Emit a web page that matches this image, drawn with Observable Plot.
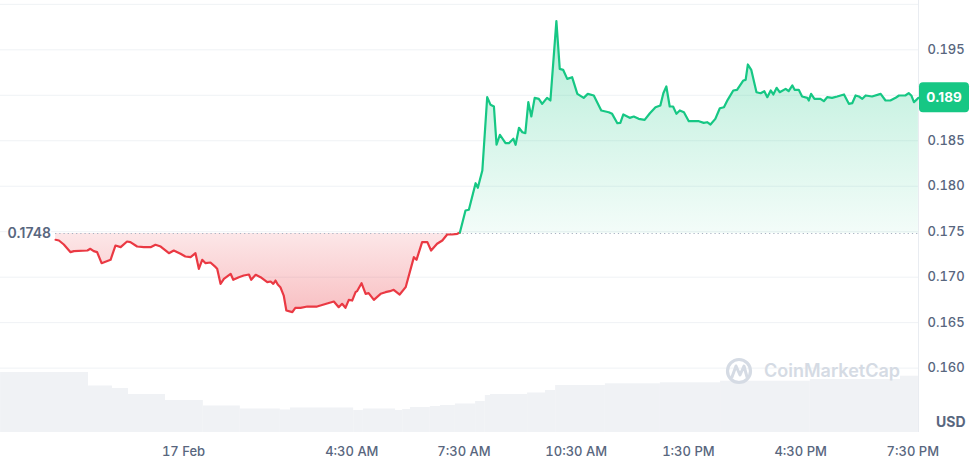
<!DOCTYPE html>
<html>
<head>
<meta charset="utf-8">
<script src="https://cdn.jsdelivr.net/npm/d3@7"></script>
<script src="https://cdn.jsdelivr.net/npm/@observablehq/plot@0.6"></script>
<style>
  html, body { margin: 0; padding: 0; background: #ffffff; }
  #chart { position: relative; width: 971px; height: 458px; }
  #chart svg { position: absolute; left: 0; top: 0; overflow: visible; }
</style>
</head>
<body>
<div id="chart"></div>
<script>
// ---------- DATA (hours relative to 17 Feb 00:00, price in USD) ----------
const baselinePrice = 0.1748;
const lastPriceLabel = "0.189";

const priceTimes = [
  -3.42,-3.33,-3.20,-3.02,-2.93,-2.57,-2.49,-2.40,-2.31,-2.19,
  -1.95,-1.82,-1.68,-1.51,-1.42,-1.24,-1.06,-0.88,-0.75,-0.61,
  -0.39,-0.26,-0.08,0.05,0.19,0.32,0.41,0.50,0.59,0.72,
  0.86,0.90,0.99,1.08,1.26,1.33,1.48,1.61,1.75,1.81,
  1.93,2.06,2.24,2.33,2.40,2.46,2.52,2.59,2.68,2.75,
  2.91,2.99,3.13,3.31,3.57,3.75,4.02,4.15,4.24,4.33,
  4.42,4.51,4.60,4.64,4.76,4.87,4.95,5.09,5.27,5.40,
  5.52,5.62,5.78,5.94,6.16,6.23,6.38,6.52,6.62,6.78,
  6.92,7.05,7.18,7.32,7.39,
  7.54,7.63,7.81,7.87,7.99,8.12,8.21,8.30,8.37,8.46,
  8.61,8.70,8.82,8.88,8.97,9.06,9.14,9.22,9.30,9.39,
  9.50,9.59,9.72,9.81,9.97,10.06,10.15,10.26,10.39,10.53,
  10.70,10.81,10.97,11.17,11.37,11.46,11.60,11.68,11.76,11.93,
  12.04,12.17,12.33,12.47,12.62,12.75,12.83,12.91,13.00,13.09,
  13.18,13.27,13.38,13.51,13.78,13.91,14.00,14.09,14.22,14.34,
  14.45,14.55,14.70,14.80,14.97,15.03,15.09,15.18,15.32,15.43,
  15.53,15.61,15.70,15.77,15.86,15.94,16.10,16.18,16.28,16.34,
  16.45,16.54,16.68,16.72,16.78,16.87,17.03,17.12,17.21,17.34,
  17.48,17.66,17.79,17.88,17.97,18.06,18.15,18.24,18.41,18.64,
  18.77,18.90,19.04,19.13,19.30,19.39,19.46,19.53,19.65
];

const prices = [
  0.17411,0.17403,0.17359,0.17275,0.17286,0.17293,0.17312,0.17286,0.17275,0.17154,
  0.17191,0.17348,0.17330,0.17392,0.17385,0.17337,0.17330,0.17330,0.17356,0.17337,
  0.17264,0.17293,0.17257,0.17227,0.17220,0.17264,0.17092,0.17191,0.17154,0.17161,
  0.17110,0.17092,0.16927,0.16982,0.17037,0.16971,0.17000,0.17018,0.17029,0.16971,
  0.17026,0.17000,0.16945,0.16952,0.16927,0.16963,0.16919,0.16890,0.16798,0.16634,
  0.16615,0.16663,0.16663,0.16677,0.16677,0.16699,0.16732,0.16670,0.16707,0.16663,
  0.16751,0.16743,0.16835,0.16846,0.16934,0.16817,0.16824,0.16751,0.16817,0.16835,
  0.16846,0.16861,0.16809,0.16890,0.17220,0.17191,0.17385,0.17385,0.17293,0.17367,
  0.17403,0.17469,0.17469,0.17477,0.17491,
  0.17733,0.17741,0.18033,0.17983,0.18173,0.18979,0.18895,0.18877,0.18456,0.18566,
  0.18473,0.18473,0.18522,0.18456,0.18643,0.18594,0.18583,0.18924,0.18767,0.18972,
  0.18961,0.18906,0.18972,0.18943,0.19815,0.19291,0.19280,0.19181,0.19199,0.19016,
  0.18972,0.19016,0.18998,0.18833,0.18814,0.18796,0.18693,0.18697,0.18789,0.18752,
  0.18767,0.18741,0.18730,0.18803,0.18869,0.18888,0.19023,0.19097,0.18877,0.18877,
  0.18796,0.18833,0.18814,0.18715,0.18715,0.18697,0.18704,0.18679,0.18741,0.18858,
  0.18869,0.18950,0.19053,0.19060,0.19163,0.19170,0.19339,0.19280,0.19034,0.19023,
  0.19045,0.18979,0.19053,0.19009,0.19082,0.19034,0.19071,0.19045,0.19108,0.19060,
  0.19060,0.18987,0.18972,0.18943,0.19016,0.18961,0.18961,0.18935,0.18979,0.18972,
  0.18987,0.19009,0.18906,0.18913,0.18998,0.18987,0.18961,0.18998,0.18987,0.19016,
  0.18943,0.18943,0.18972,0.18998,0.18998,0.19023,0.18998,0.18924,0.18972
];

// Volume (relative units), as steps: [start hour, end hour]
const volumeStarts = [-4.89,-2.54,-1.90,-1.47,-0.48,0.53,1.52,2.59,2.86,4.55,4.81,5.67,5.86,6.07,6.60,6.87,7.27,7.81,8.07,8.21,9.20,9.68,9.95,11.28,12.75,14.36,16.76,19.17];
const volumeEnds   = [-2.54,-1.90,-1.47,-0.48,0.53,1.52,2.59,2.86,4.55,4.81,5.67,5.86,6.07,6.60,6.87,7.27,7.81,8.07,8.21,9.20,9.68,9.95,11.28,12.75,14.36,16.76,19.17,19.65];
const volumeValues = [60,46.5,44,38,32,26.5,23.5,22.5,24.5,22,23.5,22,23,25,26,27,28.5,31,37,38,39.5,42,47,48.7,49.7,51.3,53,56.3];

const xTickHours  = [0, 4.5, 7.5, 10.5, 13.5, 16.5, 19.5];
const xTickLabels = ["17 Feb", "4:30 AM", "7:30 AM", "10:30 AM", "1:30 PM", "4:30 PM", "7:30 PM"];
const yTicks = [0.160, 0.165, 0.170, 0.175, 0.180, 0.185, 0.195];
const gridValues = [0.160, 0.165, 0.170, 0.175, 0.180, 0.185, 0.190, 0.195, 0.200];

const xDomain = [-4.893, 19.652];
const yDomain = [0.152919, 0.200424];

// ---------- STYLE ----------
const GREEN = "#16c784";
const RED = "#ea3943";
const TEXT = "#58667e";
const GRID = "#eff2f5";
const W = 971, H = 458;
const mRight = 53, mBottom = 26;

// ---------- derived tables ----------
const series = priceTimes.map((t, i) => ({t, p: prices[i]}));
let lastBelow = 0;
series.forEach((d, i) => { if (d.p < baselinePrice) lastBelow = i; });
const redPart = series.slice(0, lastBelow + 2);
const greenPart = series.slice(lastBelow + 1);
const lastPoint = series[series.length - 1];
const volume = volumeValues.map((v, i) => ({start: volumeStarts[i], end: volumeEnds[i], v}));

const chart = document.getElementById("chart");

// ---------- Volume layer ----------
const volPlot = Plot.plot({
  width: W, height: H,
  marginLeft: 0, marginRight: mRight, marginTop: 0, marginBottom: mBottom,
  style: {background: "transparent"},
  x: {domain: xDomain, axis: null},
  y: {domain: [0, 100], range: [H - mBottom, H - mBottom - 100], axis: null},
  marks: [
    Plot.rectY(volume, {x1: "start", x2: "end", y: "v", fill: "#f0f2f5", inset: 0})
  ]
});
chart.appendChild(volPlot);

// ---------- Price layer ----------
const defsMark = () => {
  const defs = d3.create("svg:defs");
  const g = defs.append("linearGradient").attr("id", "gradGreen")
    .attr("x1", 0).attr("y1", 0).attr("x2", 0).attr("y2", 1);
  g.append("stop").attr("offset", "0%").attr("stop-color", GREEN).attr("stop-opacity", 0.32);
  g.append("stop").attr("offset", "100%").attr("stop-color", GREEN).attr("stop-opacity", 0.05);
  const r = defs.append("linearGradient").attr("id", "gradRed")
    .attr("x1", 0).attr("y1", 0).attr("x2", 0).attr("y2", 1);
  r.append("stop").attr("offset", "0%").attr("stop-color", RED).attr("stop-opacity", 0.12);
  r.append("stop").attr("offset", "100%").attr("stop-color", RED).attr("stop-opacity", 0.32);
  return defs.node();
};

const priceTag = (index, scales, values, dims) => {
  const g = d3.create("svg:g");
  const cy = scales.y(lastPoint.p);
  const x0 = dims.width - dims.marginRight + 1;
  g.append("rect").attr("x", x0).attr("y", cy - 15).attr("width", 50).attr("height", 30)
    .attr("rx", 4).attr("fill", GREEN);
  g.append("text").attr("x", x0 + 25).attr("y", cy).attr("dy", "0.35em")
    .attr("text-anchor", "middle").attr("fill", "#ffffff")
    .attr("font-size", 13.5).attr("font-weight", 700).text(lastPriceLabel);
  return g.node();
};

const watermark = (index, scales, values, dims) => {
  const g = d3.create("svg:g").attr("fill", "none");
  const right = dims.width - dims.marginRight;
  const bottom = dims.height - dims.marginBottom;
  const cx = right - 179, cy = bottom - 61;
  g.append("circle").attr("cx", cx).attr("cy", cy).attr("r", 11.5)
    .attr("stroke", "#d5dbe4").attr("stroke-width", 3.2);
  g.append("path")
    .attr("d", `M${cx - 7},${cy + 6} L${cx - 3},${cy - 5} L${cx + 1},${cy + 4} L${cx + 5},${cy - 5} L${cx + 8},${cy + 6}`)
    .attr("stroke", "#d5dbe4").attr("stroke-width", 3).attr("stroke-linejoin", "round").attr("stroke-linecap", "round");
  g.append("text").attr("x", right - 154).attr("y", cy).attr("dy", "0.35em")
    .attr("text-anchor", "start").attr("fill", "#d5dbe4")
    .attr("font-size", 18).attr("font-weight", 600).text("CoinMarketCap");
  return g.node();
};

const pricePlot = Plot.plot({
  width: W, height: H,
  marginLeft: 0, marginRight: mRight, marginTop: 0, marginBottom: mBottom,
  style: {background: "transparent", fontFamily: "Inter, 'Noto Sans', sans-serif", fontSize: "13px", color: TEXT},
  x: {domain: xDomain},
  y: {domain: yDomain},
  marks: [
    defsMark,
    Plot.ruleY(gridValues, {stroke: GRID, strokeWidth: 1}),
    Plot.ruleX([xDomain[1]], {stroke: "#e9ecf1", strokeWidth: 1}),
    Plot.areaY(greenPart, {x: "t", y1: baselinePrice, y2: "p", fill: "url(#gradGreen)", curve: "linear"}),
    Plot.areaY(redPart, {x: "t", y1: baselinePrice, y2: "p", fill: "url(#gradRed)", curve: "linear"}),
    Plot.ruleY([{y: baselinePrice, x1: priceTimes[0], x2: priceTimes[priceTimes.length - 1]}],
      {y: "y", x1: "x1", x2: "x2", stroke: "#a7b1c2", strokeWidth: 1.2, strokeDasharray: "1.2,3"}),
    Plot.line(redPart, {x: "t", y: "p", stroke: RED, strokeWidth: 2.2, strokeLinejoin: "round"}),
    Plot.line(greenPart, {x: "t", y: "p", stroke: GREEN, strokeWidth: 2.2, strokeLinejoin: "round"}),
    Plot.axisY({anchor: "right", ticks: yTicks, tickFormat: d3.format(".3f"), tickSize: 0, tickPadding: 9,
      textAnchor: "start", fontSize: 13, fontWeight: 500}),
    Plot.axisX({ticks: xTickHours, tickFormat: d => xTickLabels[xTickHours.indexOf(d)], tickSize: 0,
      tickPadding: 14, fontSize: 13, fontWeight: 500}),
    Plot.text([baselinePrice], {y: d => d, frameAnchor: "left", dx: 7, textAnchor: "start",
      text: d => d.toFixed(4), fill: TEXT, fontSize: 14, fontWeight: 600,
      stroke: "#ffffff", strokeWidth: 3, strokeOpacity: 0.8}),
    Plot.text(["USD"], {frameAnchor: "bottom-right", dx: 47, dy: -6, textAnchor: "end",
      text: d => d, fill: TEXT, fontSize: 14, fontWeight: 700}),
    watermark,
    priceTag
  ]
});
chart.appendChild(pricePlot);
</script>
</body>
</html>
